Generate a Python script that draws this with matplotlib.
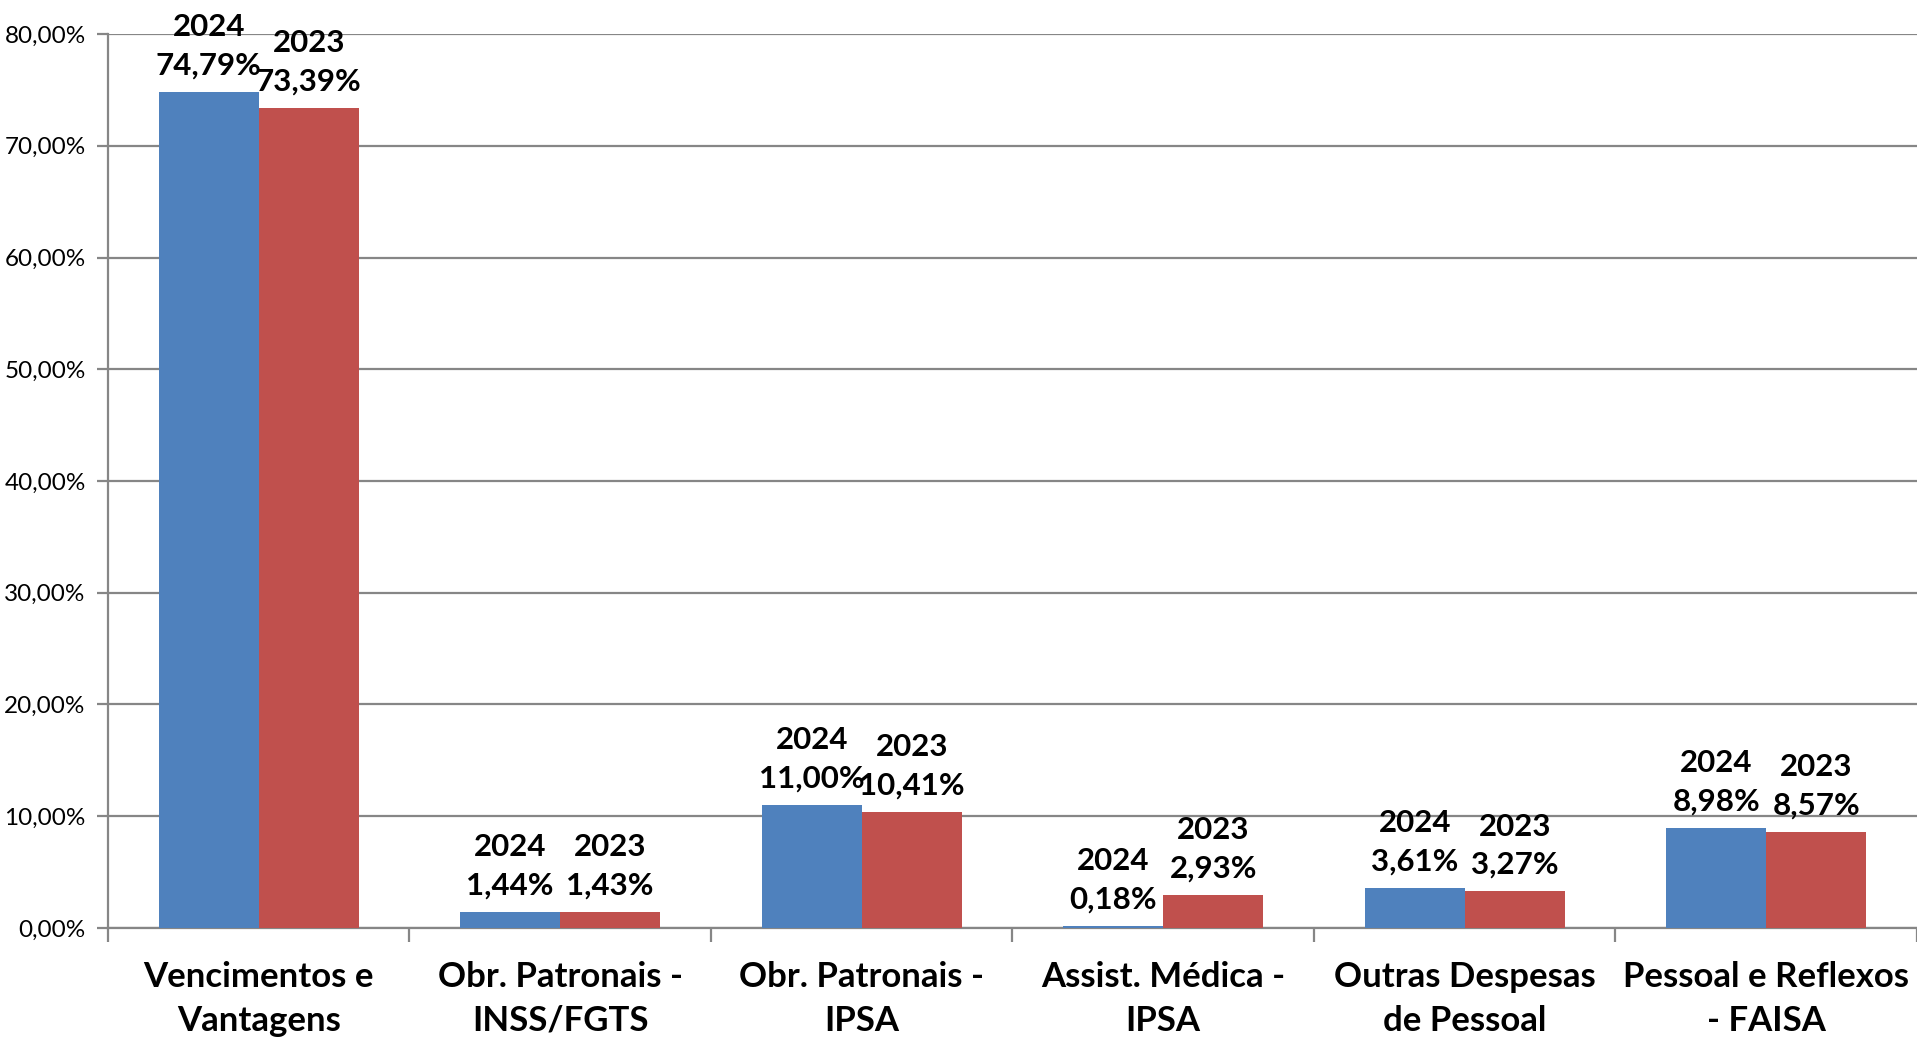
import numpy as np
import matplotlib
matplotlib.use("Agg")
import matplotlib.pyplot as plt

plt.rcParams['font.family'] = ['Lato', 'DejaVu Sans']

categories = ['Vencimentos e\nVantagens', 'Obr. Patronais -\nINSS/FGTS', 'Obr. Patronais -\nIPSA',
              'Assist. Médica -\nIPSA', 'Outras Despesas\nde Pessoal', 'Pessoal e Reflexos\n- FAISA']
years = ['2024', '2023']
v2024 = [74.79, 1.44, 11.00, 0.18, 3.61, 8.98]
v2023 = [73.39, 1.43, 10.41, 2.93, 3.27, 8.57]
colors = ['#4F81BD', '#C0504D']
yticks = [0, 10, 20, 30, 40, 50, 60, 70, 80]

def pct(v):
    return ('%.2f' % v).replace('.', ',') + '%'

fig = plt.figure(figsize=(19.17, 10.41), dpi=100)
ax = fig.add_axes([0.0563, 0.1086, 0.9437, 0.8587])

x = np.arange(len(categories))
w = 0.332
for k, vals in enumerate([v2024, v2023]):
    xs = x - w / 2 + k * w
    ax.bar(xs, vals, width=w, color=colors[k], zorder=3)
    for xi, v in zip(xs, vals):
        ax.annotate(years[k] + '\n' + pct(v), (xi, v), xytext=(0, 9), textcoords='offset points',
                    ha='center', va='bottom', fontsize=22.5, fontweight='bold', linespacing=1.45)

ax.set_xlim(-0.5, 5.5)
ax.set_ylim(0, 80)
ax.set_yticks(yticks)
ax.set_yticklabels([pct(t) for t in yticks], fontsize=17.5)
ax.yaxis.grid(True, color='#868686', linewidth=1.6, zorder=0)

ax.set_xticks(np.arange(-0.5, 6.0, 1.0))
ax.set_xticklabels([])
ax.set_xticks(x, minor=True)
ax.set_xticklabels(categories, minor=True, fontsize=25, fontweight='bold', linespacing=1.45)
ax.tick_params(axis='x', which='major', length=10, width=1.6, color='#868686', direction='out')
ax.tick_params(axis='x', which='minor', length=0, pad=24)
ax.tick_params(axis='y', length=8, width=1.6, color='#868686', pad=8)

for pos in ['top', 'right']:
    ax.spines[pos].set_visible(False)
for pos in ['left', 'bottom']:
    ax.spines[pos].set_color('#868686')
    ax.spines[pos].set_linewidth(1.6)

fig.savefig('out.png', dpi=100)
